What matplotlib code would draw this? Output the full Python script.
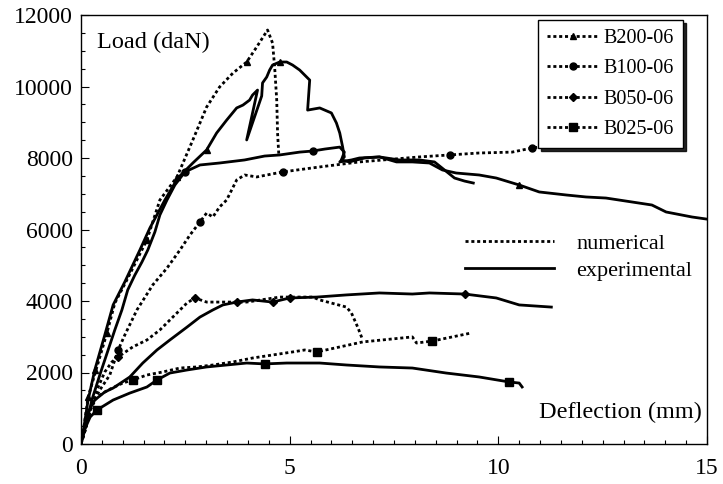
import matplotlib
matplotlib.use("Agg")
import matplotlib.pyplot as plt
from matplotlib.lines import Line2D
from matplotlib.ticker import MultipleLocator

plt.rcParams['font.family'] = ['Liberation Serif', 'DejaVu Serif']

# B200-06
b200_num_x = [0, 0.05, 0.17, 0.38, 0.62, 0.81, 1.10, 1.58, 1.89, 2.30, 2.68, 3.01, 3.32, 3.64,
              3.97, 4.21, 4.47, 4.59, 4.64, 4.69, 4.71, 4.74]
b200_num_y = [0, 310, 1310, 2150, 3100, 3940, 4590, 5710, 6825, 7470, 8505, 9425, 9985, 10375,
              10685, 11105, 11580, 11215, 10545, 9620, 8700, 8085]
b200_exp_x = [0, 0.07, 0.17, 0.33, 0.57, 0.77, 1.05, 1.41, 1.65, 2.01, 2.32, 2.68, 3.01, 3.25,
              3.49, 3.73, 3.88, 4.04, 4.11, 4.23, 3.97, 4.33, 4.35, 4.45, 4.52, 4.59, 4.76,
              4.93, 5.07, 5.24, 5.48, 5.43, 5.72, 6.00, 6.12, 6.20, 6.27, 6.31, 6.20, 6.48,
              6.67, 7.15, 7.56, 7.94, 8.35, 8.66, 8.99, 9.54, 9.95, 10.50, 10.98, 11.63, 12.10,
              12.58, 13.20, 13.68, 14.02, 14.64, 14.97]
b200_exp_y = [0, 475, 1230, 2070, 3050, 3890, 4535, 5425, 6040, 6825, 7440, 7860, 8225, 8700,
              9060, 9400, 9480, 9620, 9760, 9900, 8505, 9735, 10100, 10265, 10460, 10600, 10685,
              10685, 10600, 10460, 10180, 9340, 9400, 9260, 8980, 8700, 8305, 8030, 7890, 7945,
              8000, 8030, 7890, 7890, 7860, 7665, 7580, 7525, 7440, 7245, 7050, 6965, 6910,
              6880, 6770, 6685, 6490, 6350, 6295]

# B100-06
b100_num_x = [0, 0.10, 0.26, 0.45, 0.69, 0.89, 1.05, 1.34, 1.72, 2.06, 2.37, 2.61, 2.85, 3.01,
              3.16, 3.32, 3.49, 3.73, 3.92, 4.21, 4.83, 5.72, 6.67, 8.11, 8.83, 9.54, 10.33,
              10.81, 10.98]
b100_num_y = [0, 390, 1090, 1510, 1930, 2630, 3050, 3750, 4450, 4920, 5425, 5845, 6210, 6460,
              6350, 6630, 6825, 7385, 7525, 7470, 7610, 7750, 7890, 8030, 8085, 8140, 8165,
              8280, 8305]
b100_exp_x = [0, 0.12, 0.26, 0.45, 0.65, 0.81, 0.98, 1.12, 1.29, 1.46, 1.60, 1.77, 1.89, 2.06,
              2.25, 2.49, 2.85, 3.32, 3.92, 4.40, 4.76, 5.24, 5.55, 5.84, 6.20, 6.31, 6.24,
              6.43, 6.79, 7.15, 7.63, 8.11, 8.47, 8.71, 8.95, 9.19, 9.40]
b100_exp_y = [0, 530, 1230, 1930, 2630, 3190, 3750, 4310, 4725, 5090, 5425, 5930, 6405, 6825,
              7245, 7610, 7805, 7860, 7945, 8055, 8085, 8165, 8195, 8250, 8305, 8165, 7945,
              7890, 8000, 8030, 7945, 7945, 7890, 7665, 7440, 7355, 7300]

# B050-06
b050_num_x = [0, 0.10, 0.22, 0.38, 0.57, 0.74, 0.89, 1.24, 1.58, 1.89, 2.20, 2.54, 2.73, 3.01,
              3.56, 3.97, 4.76, 5.55, 5.72, 6.36, 6.48, 6.63, 6.75]
b050_num_y = [0, 390, 950, 1510, 2015, 2295, 2435, 2715, 2910, 3190, 3550, 3945, 4085, 3970,
              3970, 3970, 4110, 4110, 4030, 3830, 3665, 3270, 2910]
b050_exp_x = [0, 0.07, 0.17, 0.33, 0.57, 0.77, 1.17, 1.48, 1.82, 2.13, 2.54, 2.85, 3.16, 3.40,
              3.73, 4.11, 4.59, 5.00, 5.65, 6.36, 7.15, 7.94, 8.35, 9.19, 9.95, 10.50, 11.27]
b050_exp_y = [0, 390, 895, 1230, 1455, 1565, 1875, 2265, 2630, 2910, 3270, 3550, 3750, 3890,
              3970, 4030, 3970, 4085, 4110, 4170, 4225, 4195, 4225, 4195, 4085, 3890, 3830]

# B025-06
b025_num_x = [0, 0.10, 0.22, 0.38, 0.65, 1.00, 1.24, 1.58, 1.96, 2.37, 2.77, 3.16, 3.64, 4.11,
              4.59, 5.07, 5.36, 5.65, 6.75, 7.94, 8.04, 8.42, 9.35]
b025_num_y = [0, 390, 950, 1315, 1510, 1705, 1790, 1930, 2015, 2125, 2155, 2210, 2295, 2405,
              2490, 2575, 2630, 2575, 2855, 2995, 2825, 2880, 3105]
b025_exp_x = [0, 0.05, 0.22, 0.38, 0.77, 1.17, 1.58, 1.82, 2.13, 2.54, 3.01, 3.49, 3.97, 4.40,
              4.93, 5.72, 6.36, 7.15, 7.94, 8.75, 9.54, 10.26, 10.50, 10.57]
b025_exp_y = [0, 310, 755, 950, 1230, 1425, 1595, 1790, 1985, 2070, 2155, 2210, 2265, 2240,
              2265, 2265, 2210, 2155, 2125, 1985, 1875, 1735, 1705, 1595]

fig = plt.figure(figsize=(7.23, 4.84), dpi=100)
ax = fig.add_axes([81 / 723, 40 / 484, 626 / 723, 429 / 484])

dot = (0, (1.1, 1.0))
lw = 2.0
ms = 5

# courbes numeriques (pointilles) et experimentales (trait plein)
ax.plot(b200_num_x, b200_num_y, color='k', ls=dot, lw=lw, marker='^', ms=ms,
        markevery=[2, 4, 7, 9, 14], label='B200-06')
ax.plot(b200_exp_x, b200_exp_y, color='k', ls='-', lw=lw, marker='^', ms=ms - 1,
        markevery=[3, 12, 26, 49])
ax.plot(b100_num_x, b100_num_y, color='k', ls=dot, lw=lw, marker='o', ms=ms,
        markevery=[5, 12, 20, 24, 27], label='B100-06')
ax.plot(b100_exp_x, b100_exp_y, color='k', ls='-', lw=lw, marker='o', ms=ms,
        markevery=[15, 22])
ax.plot(b050_num_x, b050_num_y, color='k', ls=dot, lw=lw, marker='D', ms=ms - 1,
        markevery=[6, 12], label='B050-06')
ax.plot(b050_exp_x, b050_exp_y, color='k', ls='-', lw=lw, marker='D', ms=ms - 1,
        markevery=[14, 16, 17, 23])
ax.plot(b025_num_x, b025_num_y, color='k', ls=dot, lw=lw, marker='s', ms=ms + 1,
        markevery=[6, 17, 21], label='B025-06')
ax.plot(b025_exp_x, b025_exp_y, color='k', ls='-', lw=lw, marker='s', ms=ms + 1,
        markevery=[3, 7, 13, 21])

ax.set_xlim(0, 15)
ax.set_ylim(0, 12000)
ax.xaxis.set_major_locator(MultipleLocator(5))
ax.xaxis.set_minor_locator(MultipleLocator(0.5))
ax.yaxis.set_major_locator(MultipleLocator(2000))
ax.yaxis.set_minor_locator(MultipleLocator(500))
ax.tick_params(which='both', direction='in', labelsize=17, width=0.8)
ax.tick_params(which='major', length=6)
ax.tick_params(which='minor', length=3)
ax.tick_params(axis='x', pad=10)
ax.tick_params(axis='y', pad=6)
for s in ax.spines.values():
    s.set_linewidth(1.0)

ax.text(0.38, 11240, 'Load (daN)', fontsize=17.5, ha='left', va='center')
ax.text(14.88, 895, 'Deflection (mm)', fontsize=17.5, ha='right', va='center')

leg1 = ax.legend(loc='upper right', bbox_to_anchor=(0.962, 0.988), borderaxespad=0,
                 fontsize=14.5, handlelength=2.5, handletextpad=0.3, labelspacing=0.55,
                 borderpad=0.45, numpoints=1, fancybox=False, edgecolor='k', framealpha=1,
                 shadow={'color': 'k', 'alpha': 0.85})
leg1.get_frame().set_linewidth(1.0)
ax.add_artist(leg1)

h2 = [Line2D([], [], color='k', ls=dot, lw=lw), Line2D([], [], color='k', ls='-', lw=lw)]
ax.legend(h2, ['numerical', 'experimental'], loc='center left', bbox_to_anchor=(0.6, 0.435),
          borderaxespad=0, frameon=False, fontsize=16, handlelength=4.0,
          handletextpad=1.0, labelspacing=0.3)

fig.savefig('out.png', dpi=100, facecolor='white')
